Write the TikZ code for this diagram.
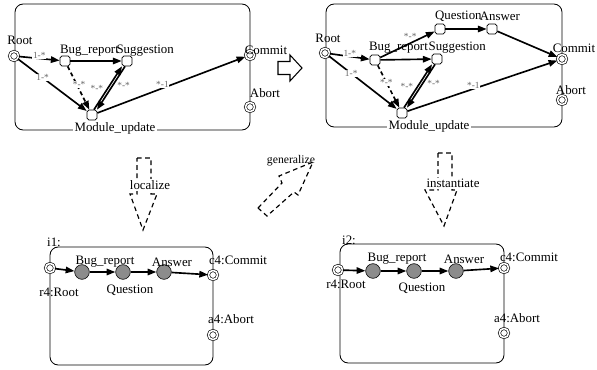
\documentclass[tikz,border=0pt]{standalone}
\usepackage{fontspec}
\setmainfont{Liberation Serif}
\usetikzlibrary{arrows.meta, positioning}

\begin{document}
\begin{tikzpicture}[x=0.03cm, y=-0.03cm, >={Triangle[length=7.5pt,width=5.5pt]}, font=\fontsize{11}{13}\selectfont]
    \tikzstyle{term}=[circle, draw, double, double distance=1.4pt, line width=0.55pt, fill=white, minimum size=7.8pt, inner sep=0pt]
    \tikzstyle{task}=[rectangle, draw, rounded corners=1.5pt, fill=white, minimum size=8.5pt, inner sep=0pt, line width=0.6pt]
    \tikzstyle{act}=[circle, draw, fill=gray!90, minimum size=12.5pt, inner sep=0pt, line width=0.5pt]
    \tikzstyle{flow}=[->, line width=1.4pt]
    \tikzstyle{opt}=[dash pattern=on 3.5pt off 2.5pt]
    \tikzstyle{mult}=[font=\fontsize{8}{9}\selectfont, text=black!60, fill=white, inner sep=0.5pt]
    \tikzstyle{cont}=[draw, line width=0.7pt, rounded corners=7pt]
    \tikzstyle{bigarrow}=[draw, line width=1pt, dash pattern=on 4pt off 3pt]

    \useasboundingbox (0,0) rectangle (597,369);

    % process model
    \draw[cont] (15,4) rectangle (250,130);
    \node[term] (r1) at (14,56) {};
    \node[task] (b1) at (65,61) {};
    \node[task] (s1) at (127,61) {};
    \node[task] (u1) at (92,115) {};
    \node[term] (c1) at (250,55) {};
    \node[term] (a1) at (250,107) {};
    \node (lr1) at (20,40) {Root};
    \node[anchor=west] (lb1) at (56,51) {Bug\_report};
    \node[anchor=east] (ls1) at (178,51) {Suggestion};
    \node (lc1) at (266,50) {Commit};
    \node (la1) at (265,93) {Abort};
    \node[fill=white, inner sep=1pt] (lu1) at (115,128) {Module\_update};

    \draw[flow] (r1) -- node[mult, yshift=3pt] {1-*} (b1);
    \draw[flow] (r1) -- node[mult, pos=0.36] {1-*} (u1);
    \draw[flow] (b1) -- (s1);
    \draw[flow, opt] (b1) -- node[mult, pos=0.42, xshift=2pt] {*-*} (u1);
    \draw[flow, transform canvas={xshift=-1.3pt}] (u1) -- node[mult, left=3pt, fill=none] {*-*} (s1);
    \draw[flow, transform canvas={xshift=1.3pt}] (s1) -- node[mult, pos=0.45, right=3pt, fill=none] {*-*} (u1);
    \draw[flow] (u1) -- node[mult, pos=0.44, yshift=3pt] {*-1} (c1);

    % extended model
    \draw[cont] (326,4) rectangle (562,127);
    \node[term] (r2) at (325,53) {};
    \node[task] (b2) at (375,60) {};
    \node[task] (s2) at (437,59) {};
    \node[task] (q2) at (440,29) {};
    \node[task] (w2) at (492,29) {};
    \node[task] (u2) at (402,113) {};
    \node[term] (c2) at (562,59) {};
    \node[term] (a2) at (562,100) {};
    \node (lr2) at (328,38) {Root};
    \node[anchor=west] (lb2) at (365,48) {Bug\_report};
    \node[anchor=east] (ls2) at (490,48) {Suggestion};
    \node[anchor=west] (lq2) at (431,16) {Question};
    \node[anchor=east] (lw2) at (524,16) {Answer};
    \node (lc2) at (574,48) {Commit};
    \node (la2) at (571,90) {Abort};
    \node[fill=white, inner sep=1pt] (lu2) at (429,126) {Module\_update};

    \draw[flow] (r2) -- node[mult, yshift=3pt] {1-*} (b2);
    \draw[flow] (r2) -- node[mult, pos=0.33] {1-*} (u2);
    \draw[flow] (b2) -- (s2);
    \draw[flow] (b2) -- node[mult, pos=0.55, above=2pt, fill=none] {*-*} (q2);
    \draw[flow] (q2) -- (w2);
    \draw[flow] (w2) -- (c2);
    \draw[flow, opt] (b2) -- node[mult, pos=0.4] {*-*} (u2);
    \draw[flow, transform canvas={xshift=-1.3pt}] (u2) -- node[mult, left=3pt, fill=none] {*-*} (s2);
    \draw[flow, transform canvas={xshift=1.3pt}] (s2) -- node[mult, pos=0.45, right=3pt, fill=none] {*-*} (u2);
    \draw[flow] (u2) -- node[mult, pos=0.44, yshift=3pt] {*-1} (c2);

    % transition arrows
    \draw[line width=0.9pt] (278,61.5) -- (290,61.5) -- (290,55) -- (302,68) -- (290,81) -- (290,74.5) -- (278,74.5) -- cycle;
    \draw[bigarrow] (137,158) -- (151,158) -- (151,194) -- (157,194) -- (143,230) -- (130,194) -- (137,194) -- cycle;
    \node[fill=white, inner sep=1pt] (loc) at (150,185) {localize};
    \draw[bigarrow] (438,153) -- (452,153) -- (452,190) -- (457,190) -- (444,226) -- (425,190) -- (438,190) -- cycle;
    \node[fill=white, inner sep=1pt] (ins) at (453,183) {instantiate};
    \draw[bigarrow] (258,208) -- (282,183) -- (279,176) -- (313,162) -- (298,195) -- (294,192) -- (267,216) -- cycle;
    \node[font=\fontsize{10}{12}\selectfont] (gen) at (291,161) {generalize};

    % instance 1
    \draw[cont] (50,247) rectangle (213,365);
    \node[term] (r3) at (50,268) {};
    \node[act] (n31) at (82,272) {};
    \node[act] (n32) at (123,272) {};
    \node[act] (n33) at (164,272) {};
    \node[term] (c3) at (213,275) {};
    \node[term] (a3) at (213,335) {};
    \node (li3) at (54,242) {i1:};
    \node (lr3) at (59,292) {r4:Root};
    \node (l31) at (105,262) {Bug\_report};
    \node (l32) at (130,290) {Question};
    \node (l33) at (172,262) {Answer};
    \node (lc3) at (238,260) {c4:Commit};
    \node (la3) at (231,319) {a4:Abort};

    \draw[flow] (r3) -- (n31);
    \draw[flow] (n31) -- (n32);
    \draw[flow] (n32) -- (n33);
    \draw[flow] (n33) -- (c3);

    % instance 2
    \draw[cont] (340,244) rectangle (504,363);
    \node[term] (r4) at (338,270) {};
    \node[act] (n41) at (373,271) {};
    \node[act] (n42) at (414,271) {};
    \node[act] (n43) at (456,271) {};
    \node[term] (c4) at (504,268) {};
    \node[term] (a4) at (504,333) {};
    \node (li4) at (349,240) {i2:};
    \node (lr4) at (346,284) {r4:Root};
    \node (l41) at (397,259) {Bug\_report};
    \node (l42) at (422,288) {Question};
    \node (l43) at (464,259) {Answer};
    \node (lc4) at (529,257) {c4:Commit};
    \node (la4) at (517,318) {a4:Abort};

    \draw[flow] (r4) -- (n41);
    \draw[flow] (n41) -- (n42);
    \draw[flow] (n42) -- (n43);
    \draw[flow] (n43) -- (c4);
\end{tikzpicture}
\end{document}
